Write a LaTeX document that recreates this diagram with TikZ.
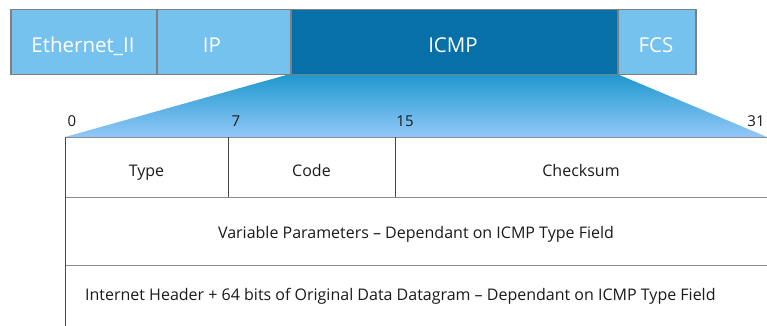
\documentclass[tikz,border=0pt]{standalone}
\usepackage{fontspec}
\setmainfont{Open Sans}
\definecolor{lightbox}{HTML}{75C2EE}
\definecolor{darkbox}{HTML}{0770A8}
\definecolor{boxborder}{HTML}{7F7F7F}
\definecolor{gradtop}{HTML}{1E98CE}
\definecolor{gradbot}{HTML}{92C8F8}
\definecolor{tabline}{HTML}{8C8C8C}
\definecolor{txt}{HTML}{1A1A1A}
\tikzset{
  hdr/.style={draw=boxborder, line width=1.5pt, anchor=north west, inner sep=0pt, minimum height=65pt},
  hdrtext/.style={text=white, font=\fontsize{20.5}{22}\selectfont, inner sep=0pt, anchor=base},
  cell/.style={text=txt, font=\fontsize{16}{18}\selectfont, inner sep=0pt, anchor=base},
  bitnum/.style={text=txt, font=\fontsize{15}{17}\selectfont, inner sep=0pt, anchor=base},
  hline/.style={draw=tabline, line width=1pt},
  vline/.style={draw=txt!80, line width=1pt}
}
\begin{document}
\begin{tikzpicture}[x=1pt,y=-1pt]
\useasboundingbox (0,0) rectangle (767,326);
% trapezoid
\shade[top color=gradtop, bottom color=gradbot] (290,74) -- (617,74) -- (767,137) -- (65,137) -- cycle;
% header boxes
\node[hdr, fill=lightbox, minimum width=146pt] (eth) at (10,9) {};
\node[hdr, fill=lightbox, minimum width=134pt] (ip) at (156,9) {};
\node[hdr, fill=darkbox, minimum width=327pt] (icmp) at (290,9) {};
\node[hdr, fill=lightbox, minimum width=78pt] (fcs) at (617,9) {};
\node[hdrtext] (ethl) at (83,53) {Ethernet\_II};
\node[hdrtext] (ipl) at (212,53) {IP};
\node[hdrtext] (icmpl) at (453,53) {ICMP};
\node[hdrtext] (fcsl) at (656,53) {FCS};
% bit numbers
\node[bitnum] (b0) at (72,126) {0};
\node[bitnum] (b7) at (236,126) {7};
\node[bitnum] (b15) at (405,126) {15};
\node[bitnum] (b31) at (756,126) {31};
% table
\draw[hline] (65,137) -- (767,137);
\draw[hline] (65,197) -- (767,197);
\draw[hline] (65,265) -- (767,265);
\draw[vline] (65,137) -- (65,326);
\draw[vline] (228,137) -- (228,197);
\draw[vline] (395,137) -- (395,197);
\node[cell] (type) at (146.5,176) {Type};
\node[cell] (code) at (311.5,176) {Code};
\node[cell] (chk) at (581,176) {Checksum};
\node[cell] (var) at (416,238) {Variable Parameters – Dependant on ICMP Type Field};
\node[cell, anchor=base west] (inet) at (85,300) {Internet Header + 64 bits of Original Data Datagram – Dependant on ICMP Type Field};
\end{tikzpicture}
\end{document}
